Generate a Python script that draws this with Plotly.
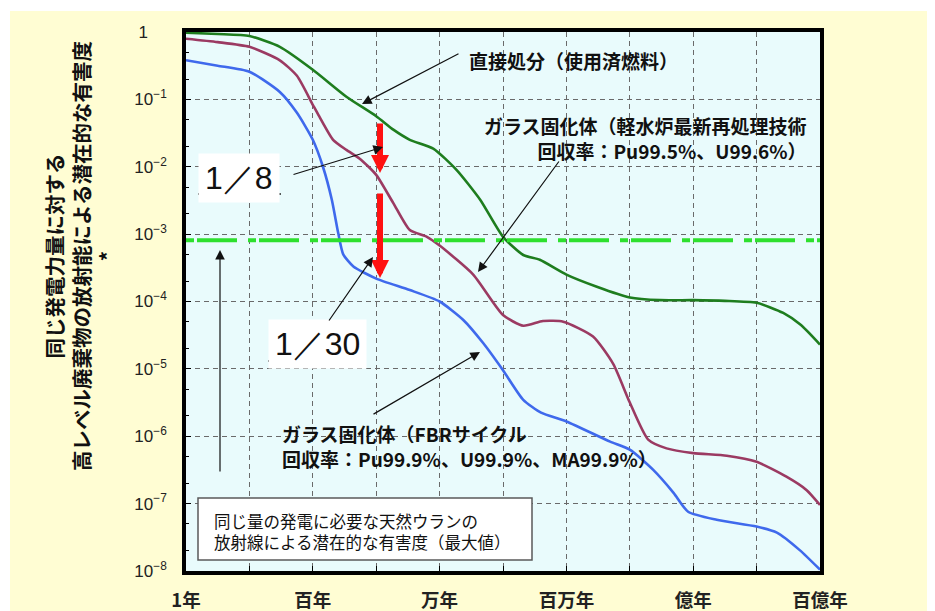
import numpy as np
import plotly.graph_objects as go

# ---------------- data (log10 units) ----------------
# 直接処分（使用済燃料）
green_log_years = [0.0, 0.5, 1.0, 1.48, 2.0, 2.53, 3.0, 3.27, 3.53, 3.9, 4.27, 4.64,
                   5.0, 5.32, 5.58, 6.0, 6.48, 7.0, 7.48, 8.0, 8.5, 9.0, 9.42, 9.7, 10.0]
green_log_hazard = [-0.01, -0.03, -0.06, -0.22, -0.56, -0.96, -1.25, -1.45, -1.6, -1.73, -2.05, -2.49,
                    -3.04, -3.31, -3.38, -3.6, -3.78, -3.94, -3.98, -3.98, -3.99, -4.02, -4.17, -4.35, -4.64]

# ガラス固化体（軽水炉最新再処理技術）
purple_log_years = [0.0, 0.5, 1.0, 1.48, 1.75, 2.0, 2.1, 2.32, 2.53, 2.74, 3.0, 3.27, 3.53, 3.8,
                    4.0, 4.53, 5.0, 5.32, 5.63, 5.95, 6.42, 6.74, 7.0, 7.29, 7.58, 8.0, 8.53,
                    9.0, 9.47, 9.79, 10.0]
purple_log_hazard = [-0.10, -0.15, -0.22, -0.42, -0.65, -1.08, -1.25, -1.6, -1.75, -1.88, -2.12, -2.54,
                     -2.94, -3.04, -3.17, -3.6, -4.2, -4.36, -4.29, -4.3, -4.52, -4.93, -5.5, -6.05,
                     -6.18, -6.25, -6.29, -6.38, -6.6, -6.8, -7.02]

# ガラス固化体（FBRサイクル）
blue_log_years = [0.0, 0.5, 1.0, 1.48, 1.75, 2.0, 2.16, 2.3, 2.4, 2.48, 2.64, 3.0, 3.53, 4.0,
                  4.37, 4.69, 5.0, 5.32, 5.6, 6.0, 6.69, 7.0, 7.37, 7.69, 7.92, 8.37, 9.0,
                  9.32, 9.68, 10.0]
blue_log_hazard = [-0.42, -0.5, -0.59, -0.89, -1.2, -1.6, -2.0, -2.49, -2.98, -3.3, -3.48, -3.66,
                   -3.83, -4.0, -4.27, -4.62, -5.02, -5.46, -5.65, -5.78, -6.08, -6.2, -6.5,
                   -6.84, -7.12, -7.24, -7.34, -7.43, -7.69, -7.98]

# 天然ウランの潜在的有害度（最大値）
uranium_level = 8.1e-4

x_tick_vals = [10.0 ** k for k in range(0, 11)]
x_tick_text = ["1年", "", "百年", "", "万年", "", "百万年", "", "億年", "", "百億年"]
y_tick_vals = [10.0 ** -k for k in range(0, 9)]
y_tick_text = ["1\u00a0\u00a0\u00a0\u00a0"] + ["10<sup>\u2212%d</sup>" % k for k in range(1, 9)]

# ---------------- layout geometry ----------------
# the page body has an 8px default margin, so the figure is drawn 8px in from the corner
OFF = 8
W, H = 935 - OFF, 611 - OFF
# plot area in screen pixels
L, R, T, B = 186, 820, 32, 571


def px(X):
    return (X - L) / (R - L)


def py(Y):
    return (B - Y) / (B - T)


JP = "Noto Sans CJK JP"
GREEN = "#1e7d1e"
PURPLE = "#9b3a62"
BLUE = "#3f69ec"

fig = go.Figure()

for xs, ys, col in [(green_log_years, green_log_hazard, GREEN),
                    (purple_log_years, purple_log_hazard, PURPLE),
                    (blue_log_years, blue_log_hazard, BLUE)]:
    fig.add_trace(go.Scatter(
        x=10.0 ** np.array(xs), y=10.0 ** np.array(ys), mode="lines",
        line=dict(color=col, width=2.6, shape="spline", smoothing=0.6),
        showlegend=False, hoverinfo="skip"))

fig.add_trace(go.Scatter(
    x=[x_tick_vals[0], x_tick_vals[-1]], y=[uranium_level, uranium_level], mode="lines",
    line=dict(color="#2ee02e", width=4, dash="8px,3px,40px,11px"),
    showlegend=False, hoverinfo="skip"))

annotations = []


def arrow(tail, tip, color="#111111", width=1.2, head=2, size=1.6):
    annotations.append(dict(
        xref="paper", yref="paper", x=px(tip[0]), y=py(tip[1]),
        ax=tail[0] - tip[0], ay=tail[1] - tip[1], axref="pixel", ayref="pixel",
        text="", showarrow=True, arrowhead=head, arrowsize=size,
        arrowwidth=width, arrowcolor=color, standoff=0, startstandoff=0))


def label(X, Y, text, size=19, xanchor="left", align="left", bold=True, bg=None,
          family=JP, pad=1):
    annotations.append(dict(
        xref="paper", yref="paper", x=px(X), y=py(Y), text=text, showarrow=False,
        xanchor=xanchor, yanchor="middle", align=align,
        font=dict(family=family, size=size, color="#111111",
                  weight="bold" if bold else "normal"),
        bgcolor=bg, borderpad=pad))


# red reduction arrows
arrow((380, 122), (380, 173), color="#ff1111", width=6, head=2, size=0.6)
arrow((380, 192), (380, 278), color="#ff1111", width=6, head=2, size=0.6)

# labels and pointers
label(467, 60, "直接処分（使用済燃料）")
arrow((460, 53), (362, 104))

label(809, 138, "ガラス固化体（軽水炉最新再処理技術<br>回収率：Pu99.5%、U99.6%）",
      xanchor="right", align="right")
arrow((560, 160), (478, 272))

label(280, 446, "ガラス固化体（FBRサイクル<br>回収率：Pu99.9%、U99.9%、MA99.9%）")
arrow((372, 415), (480, 352))

label(239, 178, "1／8", size=32, xanchor="center", bold=False,
      family="Liberation Sans, Arial", bg="white", pad=6)
arrow((292, 175), (383, 147))

label(317, 344, "1／30", size=32, xanchor="center", bold=False,
      family="Liberation Sans, Arial", bg="white", pad=6)
arrow((328, 322), (373, 257))

arrow((220, 473), (220, 250))

label(212, 531, "同じ量の発電に必要な天然ウランの<br>放射線による潜在的な有害度（最大値）",
      size=16.5, bold=False)

# y axis title
annotations.append(dict(
    xref="paper", yref="paper", x=px(80), y=py(256), textangle=-90,
    text="同じ発電力量に対する<br>高レベル廃棄物の放射能による潜在的な有害度<br>*",
    showarrow=False, xanchor="center", yanchor="middle", align="center",
    font=dict(family=JP, size=20.5, color="#111111", weight="bold")))

shapes = [
    # white page margins outside the cream panel
    dict(type="rect", xref="paper", yref="paper", x0=px(0), x1=px(935), y0=py(11), y1=py(0),
         fillcolor="white", line=dict(width=0), layer="below"),
    dict(type="rect", xref="paper", yref="paper", x0=px(0), x1=px(10), y0=py(611), y1=py(0),
         fillcolor="white", line=dict(width=0), layer="below"),
    # note box
    dict(type="rect", xref="paper", yref="paper", x0=px(198), x1=px(532), y0=py(560), y1=py(498),
         fillcolor="white", line=dict(color="#5a5a5a", width=1.5), layer="above"),
    # underlines of ratios
    dict(type="line", xref="paper", yref="paper", x0=px(198), x1=px(281), y0=py(194), y1=py(194),
         line=dict(color="#222222", width=1.5)),
    dict(type="line", xref="paper", yref="paper", x0=px(268), x1=px(366), y0=py(361), y1=py(361),
         line=dict(color="#222222", width=1.5)),
]

fig.update_layout(
    width=W, height=H,
    margin=dict(l=L - OFF, r=W - (R - OFF), t=T - OFF, b=H - (B - OFF), pad=0, autoexpand=False),
    paper_bgcolor="#fffdd3",
    plot_bgcolor="#e9fbfc",
    showlegend=False,
    annotations=annotations,
    shapes=shapes,
    xaxis=dict(
        type="log", range=[0, 10], tickvals=x_tick_vals, ticktext=x_tick_text,
        automargin=False,
        showgrid=True, gridcolor="#6a6a6a", gridwidth=1.2, griddash="5px,4px",
        showline=True, linecolor="black", linewidth=3.5, mirror=True,
        ticks="inside", ticklen=5, tickcolor="black", ticklabelstandoff=10,
        tickfont=dict(family=JP, size=18.5, color="#222222", weight="bold"),
        zeroline=False, fixedrange=True),
    yaxis=dict(
        type="log", range=[-8, 0], tickvals=y_tick_vals, ticktext=y_tick_text,
        automargin=False,
        showgrid=True, gridcolor="#6a6a6a", gridwidth=1.2, griddash="5px,4px",
        showline=True, linecolor="black", linewidth=3.5, mirror=True,
        ticks="inside", ticklen=5, tickcolor="black", ticklabelstandoff=12,
        minor=dict(ticks="inside", ticklen=3, tickcolor="black", showgrid=False),
        tickfont=dict(family="Liberation Sans, Arial", size=17, color="#222222"),
        zeroline=False, fixedrange=True),
)

fig.write_html("out.html")
